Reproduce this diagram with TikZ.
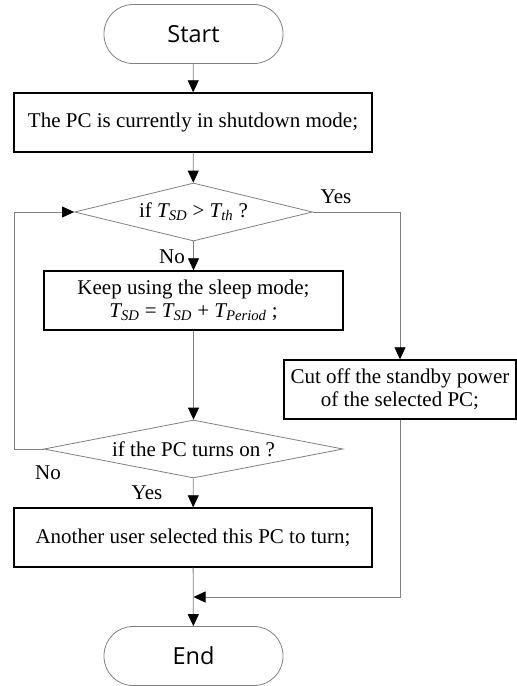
\documentclass[tikz,border=0pt]{standalone}
\usepackage{fontspec}
\setmainfont{Liberation Serif}
\newfontfamily\termfont{Open Sans}
\usetikzlibrary{shapes.geometric,arrows.meta}
\newcommand{\Tsub}[1]{{\itshape T\textsubscript{#1}}}
\tikzset{
  term/.style={draw=gray, line width=0.8pt, rounded corners=29pt, minimum width=179pt, minimum height=59pt, inner sep=0pt, font=\termfont\fontsize{23.5}{27}\selectfont},
  proc/.style={draw=black, line width=1.4pt, minimum height=59pt, inner sep=0pt, align=center, font=\fontsize{21}{23}\selectfont},
  dec/.style={draw=gray, diamond, line width=0.8pt, inner sep=0pt, aspect=4, minimum height=58pt, font=\fontsize{21}{23}\selectfont},
  flow/.style={draw=gray, line width=0.8pt, -{Triangle[length=12pt,width=11pt,color=black]}},
  lbl/.style={inner sep=0pt, font=\fontsize{21}{23}\selectfont}
}
\begin{document}
\begin{tikzpicture}[x=1pt,y=-1pt]
\useasboundingbox (0,0) rectangle (517,686);
\node[term] (start) at (193.5,34){Start};
\node[proc, minimum width=358pt] (box1) at (193,122.5){The PC is currently in shutdown mode;};
\node[dec, minimum width=238pt] (dec1) at (193.5,212){if \Tsub{SD} > \Tsub{th} ?};
\node[proc, minimum width=299pt] (box2) at (193.5,300.5){Keep using the sleep mode;\\ \Tsub{SD} = \Tsub{SD} + \Tsub{Period} ;};
\node[dec, minimum width=299pt] (dec2) at (193.5,449){if the PC turns on ?};
\node[proc, minimum width=358pt] (box4) at (193,537.5){Another user selected this PC to turn;};
\node[proc, minimum width=232pt] (box3) at (400,389.5){Cut off the standby power\\ of the selected PC;};
\node[term] (end) at (193.5,656){End};
\coordinate (loop) at (14,449);
\coordinate (join) at (193.5,597);
\node[lbl] (yes1) at (336,197){Yes};
\node[lbl] (no1) at (172,257){No};
\node[lbl] (no2) at (48,473){No};
\node[lbl] (yes2) at (147,493){Yes};
\draw[flow](start) -- (box1);
\draw[flow](box1) -- (dec1);
\draw[flow](dec1) -- (box2);
\draw[flow](box2) -- (dec2);
\draw[flow](dec2) -- (box4);
\draw[flow](box4) -- (end);
\draw[flow](dec1.east) -| (box3);
\draw[flow](dec2.west) -- (loop) |- (dec1.west);
\draw[flow](box3) |- (join);
\end{tikzpicture}
\end{document}
